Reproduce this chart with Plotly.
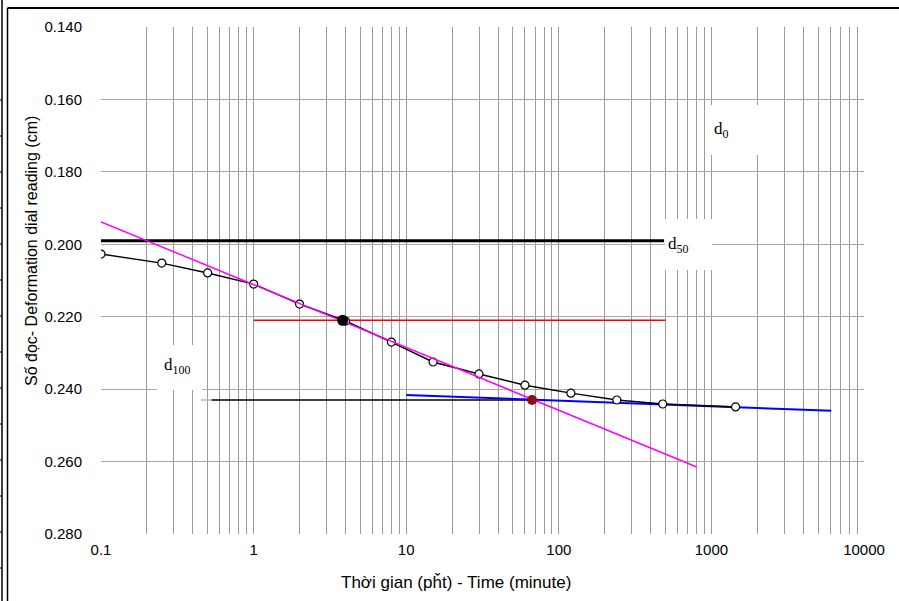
import plotly.graph_objects as go

# ---- data ----
time_min = [0.1, 0.25, 0.5, 1, 2, 4, 8, 15, 30, 60, 120, 240, 480, 1440]
reading_cm = [0.2027, 0.2052, 0.2079, 0.2110, 0.2165, 0.2212, 0.2270,
              0.2325, 0.2358, 0.2389, 0.2411, 0.2430, 0.2441, 0.2449]

tangent_x = [0.1, 802]
tangent_y = [0.1938, 0.2615]

red_x = [1, 500]
red_y = [0.221, 0.221]

d50_x = [0.1, 490]
d50_y = [0.199, 0.199]

d100_x = [0.53, 66.8]
d100_y = [0.243, 0.243]
d100_pink_x = [0.45, 0.53]

blue_x = [10, 6100]
blue_y = [0.2416, 0.2460]

t50_pt = ([3.83], [0.221])
t100_pt = ([66.8], [0.243])

y_ticks = [0.14, 0.16, 0.18, 0.20, 0.22, 0.24, 0.26, 0.28]
y_ticktext = ["0.140", "0.160", "0.180", "0.200", "0.220", "0.240", "0.260", "0.280"]

x_ticks = [0.1, 1, 10, 100, 1000, 10000]
x_ticktext = ["0.1", "1", "10", "100", "1000", "10000"]
x_minor = [round(d * m, 6) for d in [0.1, 1, 10, 100, 1000] for m in range(2, 10)]

# ---- layout geometry (pixels) ----
W, H = 899, 601
L, R, T, B = 101, 864, 27, 534


def px(xp):
    return (xp - L) / (R - L)


def py(yp):
    return (B - yp) / (B - T)


fig = go.Figure()

fig.add_trace(go.Scatter(x=d50_x, y=d50_y, mode="lines",
                         line=dict(color="black", width=3), showlegend=False))
fig.add_trace(go.Scatter(x=red_x, y=red_y, mode="lines",
                         line=dict(color="#ff0000", width=1.5), showlegend=False))
fig.add_trace(go.Scatter(x=d100_pink_x, y=d100_y, mode="lines",
                         line=dict(color="#e8a0a0", width=1.5), showlegend=False))
fig.add_trace(go.Scatter(x=d100_x, y=d100_y, mode="lines",
                         line=dict(color="black", width=1.5), showlegend=False))
fig.add_trace(go.Scatter(x=blue_x, y=blue_y, mode="lines",
                         line=dict(color="#0000ff", width=2), showlegend=False))
fig.add_trace(go.Scatter(x=time_min, y=reading_cm, mode="lines+markers",
                         line=dict(color="black", width=1.5),
                         marker=dict(size=8, color="white",
                                     line=dict(color="black", width=1.2)),
                         showlegend=False))
fig.add_trace(go.Scatter(x=tangent_x, y=tangent_y, mode="lines",
                         line=dict(color="#ff00ff", width=1.5), showlegend=False))
fig.add_trace(go.Scatter(x=t50_pt[0], y=t50_pt[1], mode="markers",
                         marker=dict(size=11, color="black"), showlegend=False))
fig.add_trace(go.Scatter(x=t100_pt[0], y=t100_pt[1], mode="markers",
                         marker=dict(size=10, color="#8b1010"), showlegend=False))

shapes = []
frame = dict(type="line", xref="paper", yref="paper", line=dict(color="black", width=1.5))
shapes.append(dict(frame, x0=px(2), x1=px(2), y0=py(0), y1=py(H)))
shapes.append(dict(frame, x0=px(7.5), x1=px(7.5), y0=py(8), y1=py(H)))
shapes.append(dict(frame, x0=px(7.5), x1=px(W), y0=py(8), y1=py(8), line=dict(color="black", width=2)))
for k in range(14):
    yy = 100 + 36 * k
    shapes.append(dict(type="line", xref="paper", yref="paper",
                       x0=px(0), x1=px(2), y0=py(yy), y1=py(yy),
                       line=dict(color="black", width=1)))
# white label boxes (cover gridlines)
for (bx0, by0, bx1, by1) in [(706, 105, 760, 155), (665, 219, 712, 270), (157, 345, 202, 390)]:
    shapes.append(dict(type="rect", xref="paper", yref="paper", layer="above",
                       x0=px(bx0), x1=px(bx1), y0=py(by1), y1=py(by0),
                       fillcolor="white", line=dict(width=0)))

serif = dict(family="Liberation Serif, Times New Roman, serif", size=17, color="black")
annotations = [
    dict(xref="paper", yref="paper", x=px(712), y=py(130), xanchor="left", yanchor="middle",
         text="d<sub>0</sub>", showarrow=False, font=serif),
    dict(xref="paper", yref="paper", x=px(666), y=py(245), xanchor="left", yanchor="middle",
         text="d<sub>50</sub>", showarrow=False, font=serif),
    dict(xref="paper", yref="paper", x=px(162), y=py(366), xanchor="left", yanchor="middle",
         text="d<sub>100</sub>", showarrow=False, font=serif),
    dict(xref="paper", yref="paper", x=px(31), y=py(251), xanchor="center", yanchor="middle",
         text="Số đọc- Deformation dial reading (cm)", textangle=-90, showarrow=False,
         font=dict(family="Liberation Sans, Arial, sans-serif", size=16, color="black")),
    dict(xref="paper", yref="paper", x=px(456), y=py(582), xanchor="center", yanchor="middle",
         text="Thời gian (pȟt) - Time (minute)", showarrow=False,
         font=dict(family="Liberation Sans, Arial, sans-serif", size=17, color="black")),
]

fig.update_layout(
    width=W, height=H,
    margin=dict(l=L, r=W - R, t=T, b=H - B),
    paper_bgcolor="white", plot_bgcolor="white",
    shapes=shapes, annotations=annotations,
    showlegend=False,
    font=dict(family="Liberation Sans, Arial, sans-serif", size=15, color="black"),
)
fig.update_xaxes(type="log", range=[-1, 4], tickvals=x_ticks, ticktext=x_ticktext,
                 showgrid=True, gridcolor="#9a9a9a", gridwidth=1, zeroline=False,
                 showline=False, ticks="", ticklabelstandoff=5, automargin=False,
                 tickfont=dict(size=15),
                 minor=dict(tickmode="array", tickvals=x_minor, showgrid=True,
                            gridcolor="#9a9a9a", gridwidth=1, ticks=""))
fig.update_yaxes(range=[0.28, 0.14], tickvals=y_ticks, ticktext=y_ticktext,
                 showgrid=True, gridcolor="#a8a8a8", gridwidth=1, zeroline=False,
                 showline=False, ticks="", ticklabelstandoff=18, automargin=False,
                 tickfont=dict(size=15))

fig.write_html("out.html", config={"displayModeBar": False},
               post_script="document.body.style.margin='0';")
